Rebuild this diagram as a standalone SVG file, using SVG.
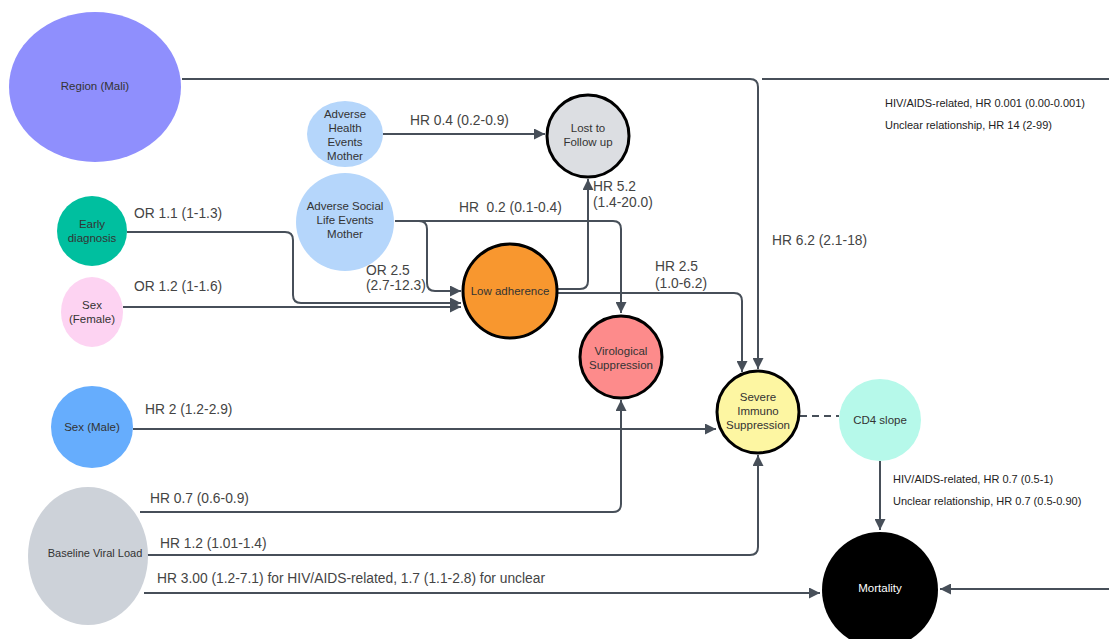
<svg xmlns="http://www.w3.org/2000/svg" width="1109" height="639" viewBox="0 0 1109 639">
<style>
.e{fill:none;stroke:#474f59;stroke-width:2}
.a{marker-end:url(#ah)}
.lbl{font-family:"Liberation Sans",Arial,sans-serif;font-size:13.8px;fill:#444;white-space:pre}
.sm{font-family:"Liberation Sans",Arial,sans-serif;font-size:11px;fill:#222}
.nt{font-family:"Liberation Sans",Arial,sans-serif;font-size:11.5px;fill:#333;text-anchor:middle}
.bk{stroke:#000;stroke-width:3}
</style>
<defs>
<marker id="ah" viewBox="0 0 10 10" refX="10" refY="5" markerWidth="11" markerHeight="11" markerUnits="userSpaceOnUse" orient="auto">
<path d="M0,0 L10,5 L0,10 z" fill="#474f59"/>
</marker>
</defs>
<rect width="1109" height="639" fill="#fff"/>
<g id="connectors">
<path class="e a" d="M182,79 H750 Q758,79 758,87 V369"/>
<path class="e" d="M762,79 H1109"/>
<path class="e a" d="M1109,589 H940"/>
<path class="e a" d="M383,134 H545"/>
<path class="e a" d="M395,221 H419 Q427,221 427,229 V283 Q427,291 435,291 H461"/>
<path class="e a" d="M395,221 H613 Q621,221 621,229 V313"/>
<path class="e a" d="M127,232 H285 Q293,232 293,240 V295 Q293,303 301,303 H461"/>
<path class="e a" d="M123,307 H461"/>
<path class="e a" d="M558,289 H580 Q588,289 588,281 V179"/>
<path class="e a" d="M558,293 H734 Q742,293 742,301 V372"/>
<path class="e a" d="M133,429 H716"/>
<path class="e a" d="M140,512 H613 Q621,512 621,504 V400"/>
<path class="e a" d="M146,555 H750 Q758,555 758,547 V455"/>
<path class="e a" d="M144,593 H820"/>
<path class="e a" d="M880,461 V530"/>
<path class="e" d="M800,416 H839" stroke-dasharray="7,5"/>
<text class="lbl" x="410" y="125">HR 0.4 (0.2-0.9)</text>
<text class="lbl" x="459" y="212">HR  0.2 (0.1-0.4)</text>
<text class="lbl" x="134" y="218">OR 1.1 (1-1.3)</text>
<text class="lbl" x="134" y="291">OR 1.2 (1-1.6)</text>
<text class="lbl" x="366" y="275">OR 2.5</text>
<text class="lbl" x="366" y="290">(2.7-12.3)</text>
<text class="lbl" x="593" y="191">HR 5.2</text>
<text class="lbl" x="593" y="207">(1.4-20.0)</text>
<text class="lbl" x="655" y="271">HR 2.5</text>
<text class="lbl" x="655" y="288">(1.0-6.2)</text>
<text class="lbl" x="772" y="245">HR 6.2 (2.1-18)</text>
<text class="lbl" x="145" y="414">HR 2 (1.2-2.9)</text>
<text class="lbl" x="150" y="503">HR 0.7 (0.6-0.9)</text>
<text class="lbl" x="160" y="548">HR 1.2 (1.01-1.4)</text>
<text class="lbl" x="157" y="583">HR 3.00 (1.2-7.1) for HIV/AIDS-related, 1.7 (1.1-2.8) for unclear</text>
<text class="sm" x="885" y="107">HIV/AIDS-related, HR 0.001 (0.00-0.001)</text>
<text class="sm" x="885" y="129">Unclear relationship, HR 14 (2-99)</text>
<text class="sm" x="893" y="483">HIV/AIDS-related, HR 0.7 (0.5-1)</text>
<text class="sm" x="893" y="505">Unclear relationship, HR 0.7 (0.5-0.90)</text>
</g>
<g id="region">
<ellipse cx="95" cy="87" rx="86" ry="75" fill="#8f8ffd"/>
<text class="nt" x="95" y="90">Region (Mali)</text>
</g>
<g id="adverse-health">
<ellipse cx="345" cy="134" rx="38" ry="33" fill="#b5d6fb"/>
<text class="nt" x="345" y="118">Adverse</text>
<text class="nt" x="345" y="132">Health</text>
<text class="nt" x="345" y="146">Events</text>
<text class="nt" x="345" y="160">Mother</text>
</g>
<g id="adverse-social">
<circle cx="345" cy="222" r="49" fill="#b5d6fb"/>
<text class="nt" x="345" y="210">Adverse Social</text>
<text class="nt" x="345" y="224">Life Events</text>
<text class="nt" x="345" y="238">Mother</text>
</g>
<g id="lost">
<circle cx="588" cy="136" r="41" fill="#dcdee2" class="bk"/>
<text class="nt" x="588" y="132">Lost to</text>
<text class="nt" x="588" y="146">Follow up</text>
</g>
<g id="early">
<circle cx="92" cy="231" r="35" fill="#00bf9f"/>
<text class="nt" x="92" y="228">Early</text>
<text class="nt" x="92" y="242">diagnosis</text>
</g>
<g id="female">
<ellipse cx="92" cy="312" rx="31" ry="35" fill="#fdd3f2"/>
<text class="nt" x="92" y="309">Sex</text>
<text class="nt" x="92" y="323">(Female)</text>
</g>
<g id="low-adherence">
<circle cx="510" cy="291" r="47" fill="#f8972f" class="bk"/>
<text class="nt" x="510" y="295">Low adherence</text>
</g>
<g id="virological">
<circle cx="621" cy="357" r="41" fill="#fd8b8b" class="bk"/>
<text class="nt" x="621" y="355">Virological</text>
<text class="nt" x="621" y="369">Suppression</text>
</g>
<g id="severe">
<circle cx="758" cy="412" r="41" fill="#fdf6a2" class="bk"/>
<text class="nt" x="758" y="401">Severe</text>
<text class="nt" x="758" y="415">Immuno</text>
<text class="nt" x="758" y="429">Suppression</text>
</g>
<g id="cd4">
<circle cx="880" cy="420" r="41" fill="#b6f9ea"/>
<text class="nt" x="880" y="424">CD4 slope</text>
</g>
<g id="male">
<circle cx="92" cy="427" r="41" fill="#66adfd"/>
<text class="nt" x="92" y="431">Sex (Male)</text>
</g>
<g id="baseline">
<ellipse cx="88" cy="556" rx="60" ry="69" fill="#cdd2d9"/>
<text class="nt" x="95" y="557" style="font-size:11px">Baseline Viral Load</text>
</g>
<g id="mortality">
<circle cx="880" cy="590" r="58" fill="#000"/>
<text class="nt" x="880" y="592" style="fill:#fff">Mortality</text>
</g>
</svg>
